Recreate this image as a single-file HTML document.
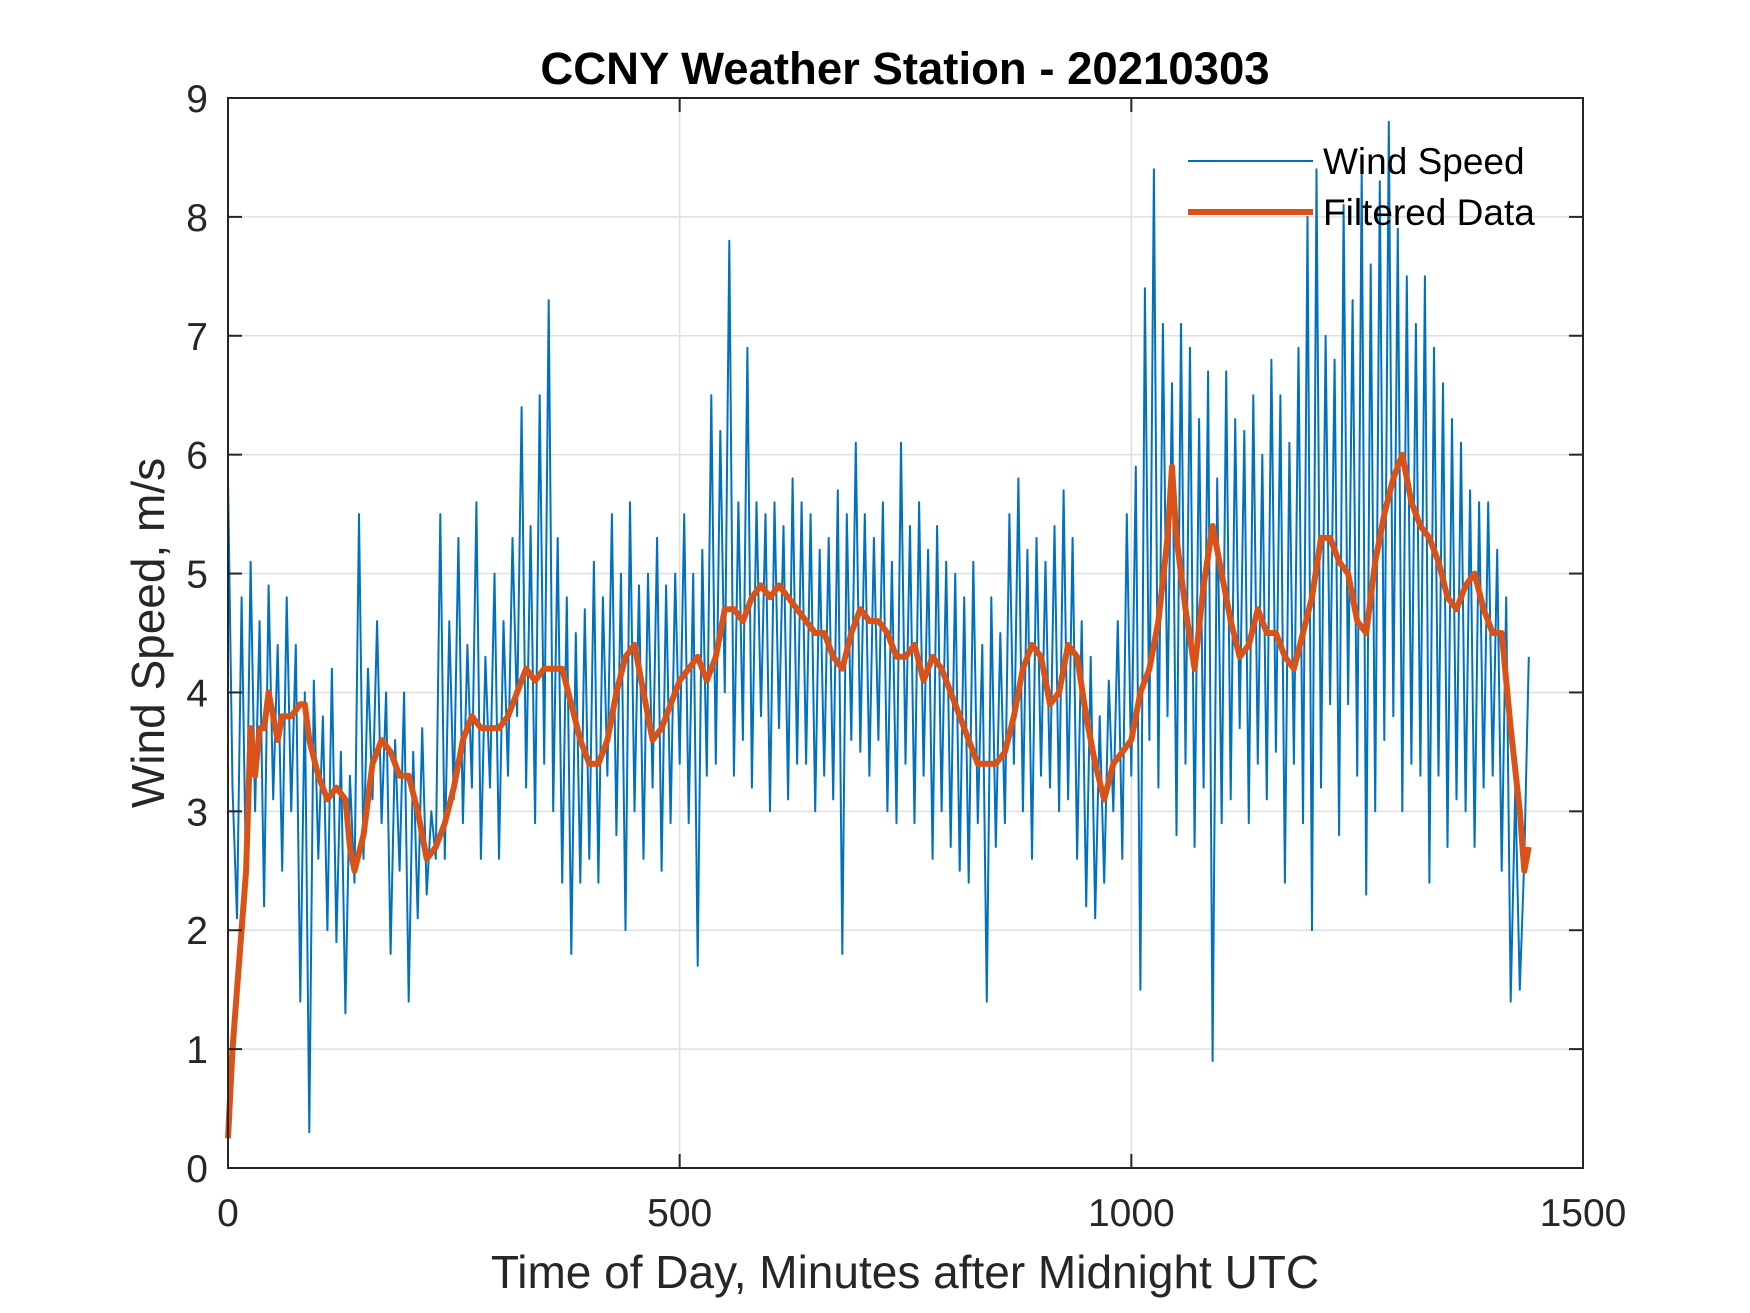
<!DOCTYPE html>
<html><head><meta charset="utf-8"><style>
html,body{margin:0;padding:0;background:#fff;}
svg{display:block;font-family:"Liberation Sans",Arial,sans-serif;}
</style></head><body>
<svg id="chart" width="1750" height="1313" viewBox="0 0 1750 1313">
<rect x="0" y="0" width="1750" height="1313" fill="#fff"/>
<g id="grid"></g>
<g id="plot"></g>
<g id="axes"></g>
<text x="905" y="84" text-anchor="middle" font-size="45.5" font-weight="bold" fill="#000">CCNY Weather Station - 20210303</text>
<text x="905" y="1288" text-anchor="middle" font-size="46" fill="#262626">Time of Day, Minutes after Midnight UTC</text>
<text transform="translate(164,633) rotate(-90)" text-anchor="middle" font-size="46" fill="#262626">Wind Speed, m/s</text>
<g>
<line x1="1188" y1="161" x2="1313" y2="161" stroke="#0072BD" stroke-width="2"/>
<text x="1323" y="174" font-size="37" fill="#000">Wind Speed</text>
<line x1="1188" y1="212" x2="1313" y2="212" stroke="#D95319" stroke-width="6"/>
<text x="1323" y="225" font-size="37" fill="#000">Filtered Data</text>
</g>
</svg>
<script>
const xTicks=[0,500,1000,1500];
const yTicks=[0,1,2,3,4,5,6,7,8,9];
const rawStep=5;
const rawValues=[
5.8,3.2,2.1,4.8,2.4,5.1,3.0,4.6,2.2,4.9,3.1,4.4,2.5,4.8,3.0,4.4,1.4,4.0,0.3,4.1,
2.6,3.8,2.0,4.2,1.9,3.5,1.3,3.3,2.4,5.5,2.6,4.2,3.1,4.6,2.9,4.0,1.8,3.6,2.5,4.0,
1.4,3.5,2.1,3.7,2.3,3.0,2.6,5.5,2.6,4.6,3.1,5.3,2.9,4.4,3.2,5.6,2.6,4.3,3.2,5.0,
2.6,4.6,3.3,5.3,3.8,6.4,3.2,5.4,2.9,6.5,3.4,7.3,3.0,5.3,2.4,4.8,1.8,4.5,2.4,4.7,
2.6,5.1,2.4,4.8,3.3,5.5,2.8,5.0,2.0,5.6,3.0,4.9,2.6,5.0,3.2,5.3,2.5,4.9,2.9,5.0,
3.4,5.5,2.9,5.0,1.7,5.2,3.3,6.5,3.4,6.2,4.0,7.8,3.3,5.6,3.6,6.9,3.2,5.6,3.8,5.5,
3.0,5.6,3.7,5.4,3.1,5.8,3.4,5.6,3.4,5.5,3.0,5.2,3.3,5.3,3.1,5.7,1.8,5.5,3.6,6.1,
3.5,5.5,3.3,5.3,3.6,5.6,3.0,5.1,2.9,6.1,3.4,5.4,2.9,5.6,3.3,5.2,2.6,5.4,3.0,5.1,
2.7,5.0,2.5,4.8,2.4,5.1,2.9,4.4,1.4,4.8,2.7,4.5,2.9,5.5,3.4,5.8,3.0,5.2,2.6,5.3,
3.3,5.1,3.2,5.4,3.0,5.7,3.1,5.3,2.6,4.6,2.2,4.3,2.1,3.8,2.4,4.1,3.0,4.6,2.6,5.5,
3.3,5.9,1.5,7.4,3.6,8.4,3.2,7.1,3.8,6.6,2.8,7.1,3.4,6.9,2.7,6.3,3.2,6.7,0.9,5.8,
2.9,6.7,3.1,6.3,3.7,6.2,2.9,6.5,3.4,6.0,3.1,6.8,3.5,6.5,2.4,6.1,3.4,6.9,2.9,8.0,
2.0,8.4,3.2,7.0,3.9,6.8,2.8,8.1,3.9,7.3,3.3,8.4,2.3,7.6,3.0,8.3,3.6,8.8,3.8,7.9,
3.0,7.5,3.4,7.1,3.3,7.5,2.4,6.9,3.3,6.6,2.7,6.3,3.1,6.1,3.0,5.7,2.7,5.6,3.2,5.6,
3.3,5.2,2.5,4.8,1.4,3.2,1.5,2.6,4.3];
const filtMinutes=[0,5,10,20,25,30,35,40,45,50,55,60,70,80,85,90,100,110,120,130,135,140,150,160,170,180,190,200,210,220,230,240,250,260,270,280,290,300,310,320,330,340,350,360,370,380,390,400,410,420,430,440,450,460,470,480,490,500,510,520,530,540,550,560,570,580,590,600,610,620,630,640,650,660,670,680,690,700,710,720,730,740,750,760,770,780,790,800,810,820,830,840,850,860,870,880,890,900,910,920,930,940,950,960,970,980,990,1000,1010,1020,1030,1040,1045,1050,1060,1070,1080,1090,1100,1110,1120,1130,1140,1150,1160,1170,1180,1190,1200,1210,1220,1230,1240,1250,1260,1270,1280,1290,1300,1310,1320,1330,1340,1350,1360,1370,1380,1390,1400,1410,1420,1430,1435,1440];
const filtValues=[0.25,1.0,1.5,2.5,3.7,3.3,3.7,3.7,4.0,3.8,3.6,3.8,3.8,3.9,3.9,3.6,3.3,3.1,3.2,3.1,2.7,2.5,2.8,3.4,3.6,3.5,3.3,3.3,3.0,2.6,2.7,2.9,3.2,3.6,3.8,3.7,3.7,3.7,3.8,4.0,4.2,4.1,4.2,4.2,4.2,3.9,3.6,3.4,3.4,3.6,4.0,4.3,4.4,4.0,3.6,3.7,3.9,4.1,4.2,4.3,4.1,4.3,4.7,4.7,4.6,4.8,4.9,4.8,4.9,4.8,4.7,4.6,4.5,4.5,4.3,4.2,4.5,4.7,4.6,4.6,4.5,4.3,4.3,4.4,4.1,4.3,4.2,4.0,3.8,3.6,3.4,3.4,3.4,3.5,3.8,4.2,4.4,4.3,3.9,4.0,4.4,4.3,3.8,3.4,3.1,3.4,3.5,3.6,4.0,4.2,4.6,5.3,5.9,5.3,4.7,4.2,4.9,5.4,5.0,4.6,4.3,4.4,4.7,4.5,4.5,4.3,4.2,4.5,4.8,5.3,5.3,5.1,5.0,4.6,4.5,5.1,5.5,5.8,6.0,5.6,5.4,5.3,5.1,4.8,4.7,4.9,5.0,4.7,4.5,4.5,3.7,3.0,2.5,2.7];

const L=228,R=1583,T=98,B=1168,XMAX=1500,YMAX=9;
const xs=v=>L+(v/XMAX)*(R-L);
const ys=v=>B-(v/YMAX)*(B-T);
const NS="http://www.w3.org/2000/svg";
function mk(tag,attrs,parent){const e=document.createElementNS(NS,tag);for(const k in attrs)e.setAttribute(k,attrs[k]);parent.appendChild(e);return e;}
const grid=document.getElementById('grid'),plot=document.getElementById('plot'),axes=document.getElementById('axes');
xTicks.forEach(t=>{
  if(t>0&&t<XMAX){const g=mk('line',{x1:xs(t),x2:xs(t),y1:T,y2:B,stroke:'#dfdfdf','stroke-width':1.5},grid);
  
  }
  const a=mk('line',{x1:xs(t),x2:xs(t),y1:B,y2:B-14,stroke:'#262626','stroke-width':2},axes);
  
  
  const b=mk('line',{x1:xs(t),x2:xs(t),y1:T,y2:T+14,stroke:'#262626','stroke-width':2},axes);
  
  
  const tx=mk('text',{x:xs(t),y:1226,'text-anchor':'middle','font-size':39,fill:'#262626'},axes);
  tx.textContent=t;
  
  
});
yTicks.forEach(t=>{
  if(t>0&&t<YMAX){const g=mk('line',{x1:L,x2:R,y1:ys(t),y2:ys(t),stroke:'#dfdfdf','stroke-width':1.5},grid);
  
  }
  const a=mk('line',{x1:L,x2:L+14,y1:ys(t),y2:ys(t),stroke:'#262626','stroke-width':2},axes);
  
  
  const b=mk('line',{x1:R,x2:R-14,y1:ys(t),y2:ys(t),stroke:'#262626','stroke-width':2},axes);
  
  
  const tx=mk('text',{x:208,y:ys(t)+14,'text-anchor':'end','font-size':39,fill:'#262626'},axes);
  tx.textContent=t;
  
  
});
const box=mk('rect',{x:L,y:T,width:R-L,height:B-T,fill:'none',stroke:'#262626','stroke-width':2},axes);


const rawPts=rawValues.map((v,i)=>xs(i*rawStep).toFixed(1)+','+ys(v).toFixed(1)).join(' ');
const raw=mk('polyline',{points:rawPts,fill:'none',stroke:'#0072BD','stroke-width':2,'stroke-linejoin':'round'},plot);


const fPts=filtValues.map((v,i)=>xs(filtMinutes[i]).toFixed(1)+','+ys(v).toFixed(1)).join(' ');
const filt=mk('polyline',{points:fPts,fill:'none',stroke:'#D95319','stroke-width':6,'stroke-linejoin':'round'},plot);


</script>
</body></html>
